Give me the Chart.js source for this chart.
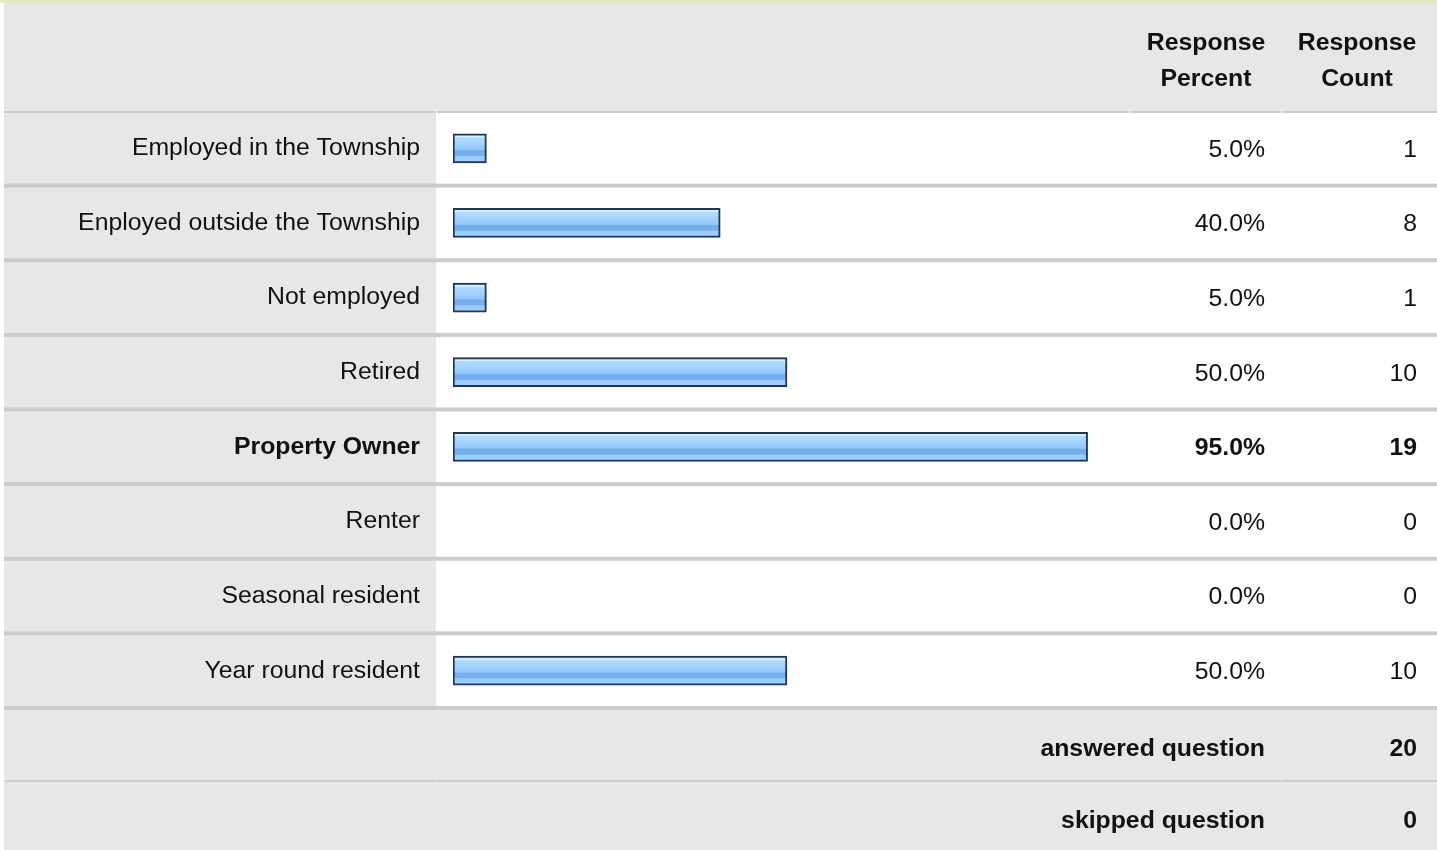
<!DOCTYPE html>
<html>
<head>
<meta charset="utf-8">
<script src="https://cdn.jsdelivr.net/npm/chart.js@4.4.1/dist/chart.umd.min.js"></script>
<style>
  html, body { margin: 0; padding: 0; background: #fff; }
  #wrap { width: 1437px; height: 850px; }
</style>
</head>
<body>
<div id="wrap"><canvas id="surveyChart" width="1437" height="850"></canvas></div>
<script>
// survey answers
var categories = ['Employed in the Township', 'Enployed outside the Township', 'Not employed', 'Retired',
                  'Property Owner', 'Renter', 'Seasonal resident', 'Year round resident'];
var percents = [5.0, 40.0, 5.0, 50.0, 95.0, 0.0, 0.0, 50.0];
var counts = [1, 8, 1, 10, 19, 0, 0, 10];
var boldRow = 4;
var headerPercent = ['Response', 'Percent'];
var headerCount = ['Response', 'Count'];
var footerLabels = ['answered question', 'skipped question'];
var footerValues = [20, 0];

var FONT = '"Liberation Sans", Arial, Helvetica, sans-serif';
var FS = 24.8;
var GRAY = '#e7e7e7';
var LINE = '#cccccc';

function barGradient(ctx) {
    var chart = ctx.chart;
    var ys = chart.scales.y;
    if (ctx.dataIndex !== undefined && !percents[ctx.dataIndex]) return 'rgba(0,0,0,0)';
    if (!ys || ctx.dataIndex === undefined) return '#94c7fb';
    var cy = ys.getPixelForValue(ctx.dataIndex);
    if (!isFinite(cy)) return '#94c7fb';
    var top = cy - 14.5, h = 29;
    var g = chart.ctx.createLinearGradient(0, top, 0, top + h);
    g.addColorStop(0, '#d6ecff');
    g.addColorStop(0.12, '#d6ecff');
    g.addColorStop(0.13, '#b3dbff');
    g.addColorStop(0.35, '#a3d2fe');
    g.addColorStop(0.55, '#92c6fa');
    g.addColorStop(0.58, '#76aeec');
    g.addColorStop(0.75, '#76aeec');
    g.addColorStop(0.78, '#98cbfb');
    g.addColorStop(1, '#a2d1fd');
    return g;
}

var tablePlugin = {
    id: 'tablePlugin',
    beforeDraw: function(chart) {
        var c = chart.ctx;
        var ys = chart.scales.y;
        var area = chart.chartArea;
        var W = chart.width;
        var band = (area.bottom - area.top) / categories.length;
        c.save();
        c.fillStyle = '#fff';
        c.fillRect(0, 0, W, chart.height);
        // top strip
        c.fillStyle = '#e2eac2';
        c.fillRect(0, 0, W, 3);
        // header
        c.fillStyle = GRAY;
        c.fillRect(4, 3, W - 4, area.top - 3);
        // label column of each row
        for (var i = 0; i < categories.length; i++) {
            var cy = ys.getPixelForValue(i);
            c.fillStyle = GRAY;
            c.fillRect(4, cy - band / 2, 432, band);
        }
        // footer
        c.fillRect(4, area.bottom, W - 4, chart.height - area.bottom);
        // header bottom line, with little column gaps
        c.fillStyle = LINE;
        [[4, 436], [437, 1129], [1130, 1281], [1282, W]].forEach(function(s) {
            c.fillRect(s[0], area.top, s[1] - s[0], 2);
        });
        // row separators
        for (var k = 1; k <= categories.length; k++) {
            var y = area.top + k * band;
            c.fillRect(4, y - 2, W - 4, 4);
        }
        // footer separator
        var fy = area.bottom + 72;
        [[5, 436], [437, 1281], [1282, W]].forEach(function(s) {
            c.fillRect(s[0], fy, s[1] - s[0], 2);
        });
        c.restore();
    },
    afterDraw: function(chart) {
        var c = chart.ctx;
        var ys = chart.scales.y;
        var area = chart.chartArea;
        c.save();
        c.fillStyle = '#111';
        c.textBaseline = 'middle';
        // header
        c.font = 'bold ' + FS + 'px ' + FONT;
        c.textAlign = 'center';
        c.fillText(headerPercent[0], 1206, 43);
        c.fillText(headerPercent[1], 1206, 79);
        c.fillText(headerCount[0], 1357, 43);
        c.fillText(headerCount[1], 1357, 79);
        // values
        c.textAlign = 'right';
        for (var i = 0; i < categories.length; i++) {
            var cy = ys.getPixelForValue(i) + 1.5;
            c.font = (i === boldRow ? 'bold ' : '') + FS + 'px ' + FONT;
            c.fillText(percents[i].toFixed(1) + '%', 1265, cy);
            c.fillText(String(counts[i]), 1417, cy);
        }
        // footer
        c.font = 'bold ' + FS + 'px ' + FONT;
        var footY = [area.bottom + 41, area.bottom + 113];
        for (var j = 0; j < footerLabels.length; j++) {
            c.fillText(footerLabels[j], 1265, footY[j]);
            c.fillText(String(footerValues[j]), 1417, footY[j]);
        }
        c.restore();
    }
};

new Chart(document.getElementById('surveyChart'), {
    type: 'bar',
    data: {
        labels: categories,
        datasets: [{
            data: percents,
            backgroundColor: barGradient,
            borderColor: '#1e3658',
            borderWidth: function(ctx) { return percents[ctx.dataIndex] > 0 ? 2 : 0; },
            borderSkipped: false,
            barThickness: 29
        }]
    },
    plugins: [tablePlugin],
    options: {
        indexAxis: 'y',
        responsive: false,
        animation: false,
        layout: { padding: { left: 0, top: 111, right: 314, bottom: 142 } },
        plugins: { legend: { display: false }, tooltip: { enabled: false } },
        scales: {
            x: { display: false, min: 0, max: 100.3 },
            y: {
                afterFit: function(scale) { scale.width = 453; },
                grid: { display: false, drawTicks: false },
                border: { display: false },
                ticks: {
                    padding: 33,
                    color: '#111',
                    font: function(ctx) {
                        return { family: FONT, size: FS, weight: ctx.index === boldRow ? 'bold' : 'normal' };
                    }
                }
            }
        }
    }
});
</script>
</body>
</html>
